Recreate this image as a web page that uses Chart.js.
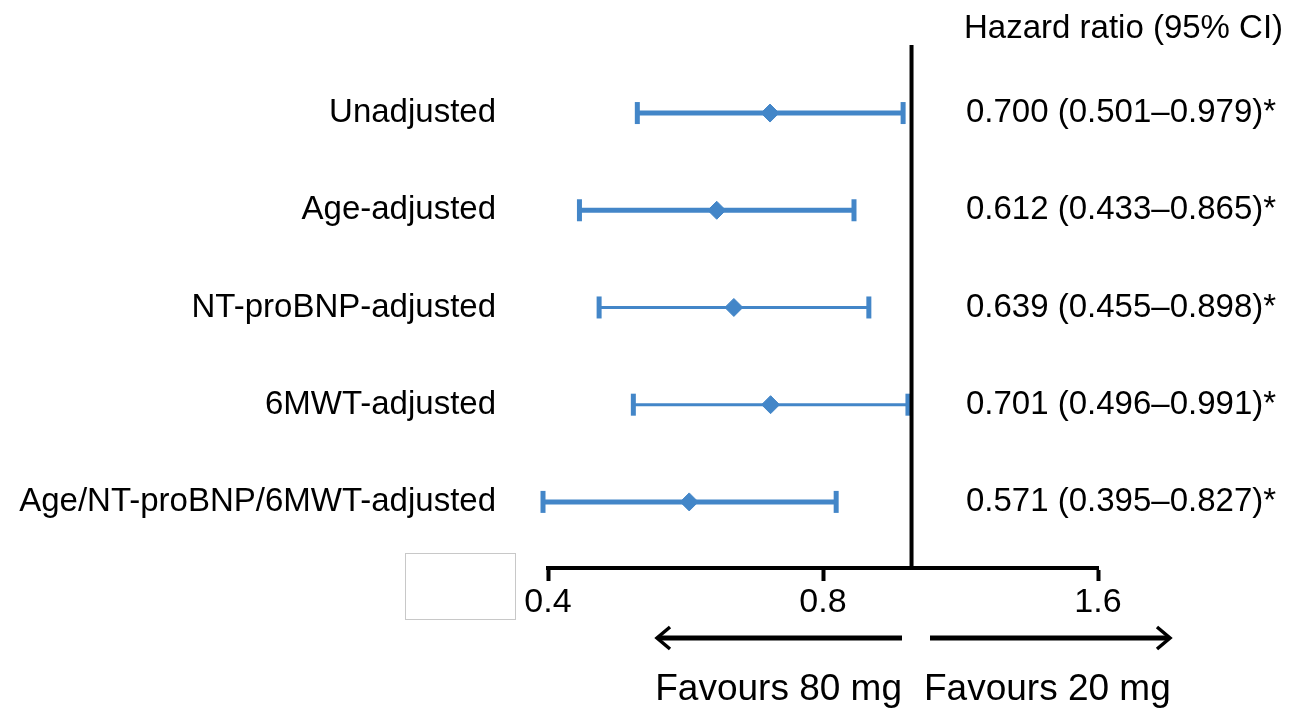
<!DOCTYPE html>
<html>
<head>
<meta charset="utf-8">
<style>
  body { margin: 0; background: #fff; }
  #chart { display: block; }
</style>
<script src="https://cdn.jsdelivr.net/npm/chart.js@4/dist/chart.umd.min.js"></script>
</head>
<body>
<canvas id="chart" width="1294" height="721"></canvas>
<script>
const rowLabels = ["Unadjusted", "Age-adjusted", "NT-proBNP-adjusted", "6MWT-adjusted", "Age/NT-proBNP/6MWT-adjusted"];
const hazardRatio = [0.700, 0.612, 0.639, 0.701, 0.571];
const ciLower = [0.501, 0.433, 0.455, 0.496, 0.395];
const ciUpper = [0.979, 0.865, 0.898, 0.991, 0.827];
const tickValues = [0.4, 0.8, 1.6];
const tickLabels = ["0.4", "0.8", "1.6"];

const blue = "#4386c8";
const lineWidths = [5, 5, 3, 3, 5];
const font = "Liberation Sans, Arial, sans-serif";

// one line dataset per row for the CI, caps drawn as rotated line points
const ciSets = rowLabels.map((lbl, i) => ({
  type: "scatter",
  showLine: true,
  clip: false,
  data: [{ x: ciLower[i], y: i + 1 }, { x: ciUpper[i], y: i + 1 }],
  borderColor: blue,
  borderWidth: lineWidths[i],
  pointStyle: "line",
  pointRotation: 90,
  pointRadius: 11,
  pointBorderWidth: 5,
  pointBorderColor: blue,
  pointBackgroundColor: blue
}));

const estimateSet = {
  type: "scatter",
  clip: false,
  data: hazardRatio.map((v, i) => ({ x: v, y: i + 1 })),
  pointStyle: "rectRot",
  pointRadius: 9,
  pointBackgroundColor: blue,
  pointBorderColor: blue,
  pointBorderWidth: 1
};

const refLine = {
  type: "scatter",
  showLine: true,
  data: [{ x: 1, y: 0.3 }, { x: 1, y: 5.68 }],
  borderColor: "#000",
  borderWidth: 4,
  pointRadius: 0
};

const extras = {
  id: "extras",
  afterDraw(chart) {
    const ctx = chart.ctx;
    const ys = chart.scales.y;
    ctx.save();
    ctx.fillStyle = "#000";
    ctx.textBaseline = "middle";
    ctx.textAlign = "left";

    ctx.font = "33px " + font;
    ctx.fillText("Hazard ratio (95% CI)", 964, 29);

    rowLabels.forEach((lbl, i) => {
      const txt = hazardRatio[i].toFixed(3) + " (" + ciLower[i].toFixed(3) + "\u2013" + ciUpper[i].toFixed(3) + ")*";
      ctx.fillText(txt, 966, ys.getPixelForValue(i + 1));
    });

    // arrows under the axis
    ctx.strokeStyle = "#000";
    ctx.lineWidth = 5;
    ctx.beginPath();
    ctx.moveTo(658, 638); ctx.lineTo(902, 638);
    ctx.moveTo(930, 638); ctx.lineTo(1168, 638);
    ctx.stroke();
    ctx.lineWidth = 3.5;
    ctx.beginPath();
    ctx.moveTo(670, 627); ctx.lineTo(657, 638); ctx.lineTo(670, 649);
    ctx.moveTo(1157, 627); ctx.lineTo(1170, 638); ctx.lineTo(1157, 649);
    ctx.stroke();

    ctx.font = "37px " + font;
    ctx.textAlign = "right";
    ctx.fillText("Favours 80 mg", 902, 690);
    ctx.textAlign = "left";
    ctx.fillText("Favours 20 mg", 924, 690);

    // empty box left of the axis
    ctx.strokeStyle = "#c8c8c8";
    ctx.lineWidth = 1;
    ctx.strokeRect(405.5, 553.5, 110, 66);
    ctx.restore();
  }
};

new Chart(document.getElementById("chart"), {
  type: "scatter",
  data: { datasets: [refLine, ...ciSets, estimateSet] },
  options: {
    responsive: false,
    animation: false,
    layout: { padding: { top: 45, right: 196, left: 0, bottom: 0 } },
    plugins: { legend: { display: false }, tooltip: { enabled: false } },
    scales: {
      x: {
        type: "logarithmic",
        min: 0.4,
        max: 1.6,
        afterBuildTicks: (s) => { s.ticks = tickValues.map(v => ({ value: v })); },
        afterFit: (s) => { s.height = 153; },
        ticks: {
          autoSkip: false,
          maxRotation: 0,
          color: "#000",
          padding: 1,
          font: { family: font, size: 34 },
          callback: (v, i) => tickLabels[i]
        },
        grid: { drawOnChartArea: false, drawTicks: true, tickLength: 13, tickWidth: 4, tickColor: "#000" },
        border: { display: true, color: "#000", width: 4 }
      },
      y: {
        type: "linear",
        reverse: true,
        min: 0.3,
        max: 5.68,
        afterBuildTicks: (s) => { s.ticks = rowLabels.map((l, i) => ({ value: i + 1 })); },
        afterFit: (s) => { s.width = 548; s.paddingTop = 0; s.paddingBottom = 0; },
        ticks: {
          autoSkip: false,
          color: "#000",
          padding: 44,
          font: { family: font, size: 33 },
          callback: (v) => rowLabels[v - 1]
        },
        grid: { display: false },
        border: { display: false }
      }
    }
  },
  plugins: [extras]
});
</script>
</body>
</html>
